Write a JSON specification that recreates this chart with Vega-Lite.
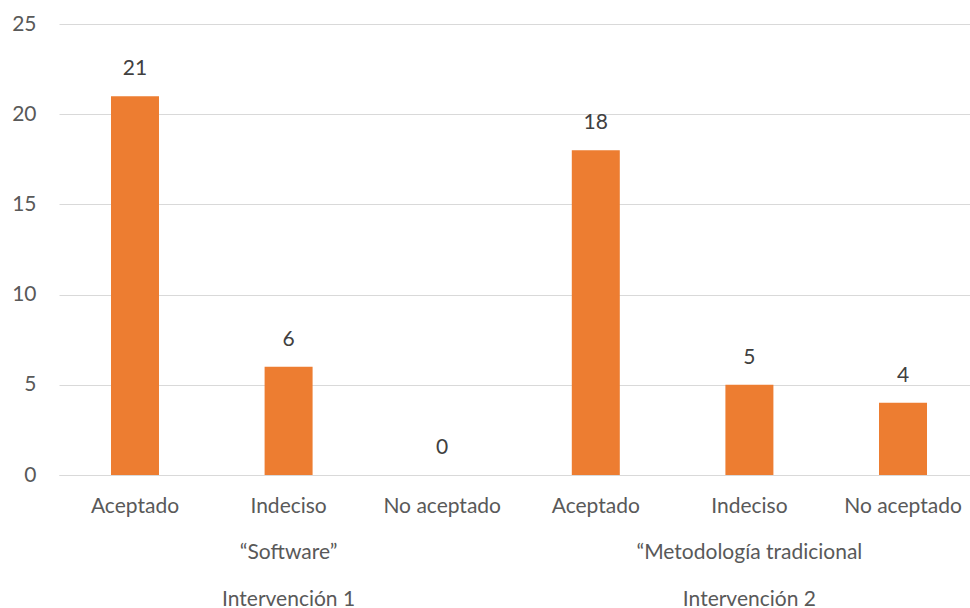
{
  "$schema": "https://vega.github.io/schema/vega-lite/v6.json",
  "width": 907,
  "height": 451,
  "autosize": {"type": "none"},
  "padding": {"left": 59, "top": 24, "right": 4, "bottom": 133},
  "background": "white",
  "data": {
    "values": [
      {"clave": "1-Aceptado", "respuesta": "Aceptado", "grupo": "“Software”", "intervencion": "Intervención 1", "valor": 21},
      {"clave": "1-Indeciso", "respuesta": "Indeciso", "grupo": "“Software”", "intervencion": "Intervención 1", "valor": 6},
      {"clave": "1-No aceptado", "respuesta": "No aceptado", "grupo": "“Software”", "intervencion": "Intervención 1", "valor": 0},
      {"clave": "2-Aceptado", "respuesta": "Aceptado", "grupo": "“Metodología tradicional", "intervencion": "Intervención 2", "valor": 18},
      {"clave": "2-Indeciso", "respuesta": "Indeciso", "grupo": "“Metodología tradicional", "intervencion": "Intervención 2", "valor": 5},
      {"clave": "2-No aceptado", "respuesta": "No aceptado", "grupo": "“Metodología tradicional", "intervencion": "Intervención 2", "valor": 4}
    ]
  },
  "config": {
    "view": {"stroke": null},
    "font": "Lato",
    "axis": {"labelFont": "Lato", "labelColor": "#595959", "labelFontSize": 21}
  },
  "encoding": {
    "x": {
      "field": "clave",
      "type": "nominal",
      "sort": null,
      "scale": {"paddingInner": 0.6875, "paddingOuter": 0.3385, "range": [0, 920]},
      "axis": {
        "title": null,
        "labelAngle": 0,
        "ticks": false,
        "domainColor": "#D9D9D9",
        "domainWidth": 1,
        "labelPadding": 20,
        "labelLineHeight": 46.5,
        "labelBaseline": "top",
        "labelLimit": 0,
        "labelExpr": "datum.value == '1-Indeciso' ? ['Indeciso', '“Software”', 'Intervención 1'] : datum.value == '2-Indeciso' ? ['Indeciso', '“Metodología tradicional', 'Intervención 2'] : split(datum.value, '-')[1]"
      }
    },
    "y": {
      "field": "valor",
      "type": "quantitative",
      "scale": {"domain": [0, 25], "nice": false},
      "axis": {
        "title": null,
        "values": [0, 5, 10, 15, 20, 25],
        "domain": false,
        "ticks": false,
        "labelPadding": 23,
        "gridColor": "#D9D9D9",
        "gridWidth": 1
      }
    }
  },
  "layer": [
    {"mark": {"type": "bar", "color": "#ED7D31"}},
    {
      "mark": {"type": "text", "baseline": "middle", "dy": -27, "fontSize": 21, "color": "#404040", "font": "Lato"},
      "encoding": {"text": {"field": "valor", "type": "quantitative"}}
    }
  ]
}
